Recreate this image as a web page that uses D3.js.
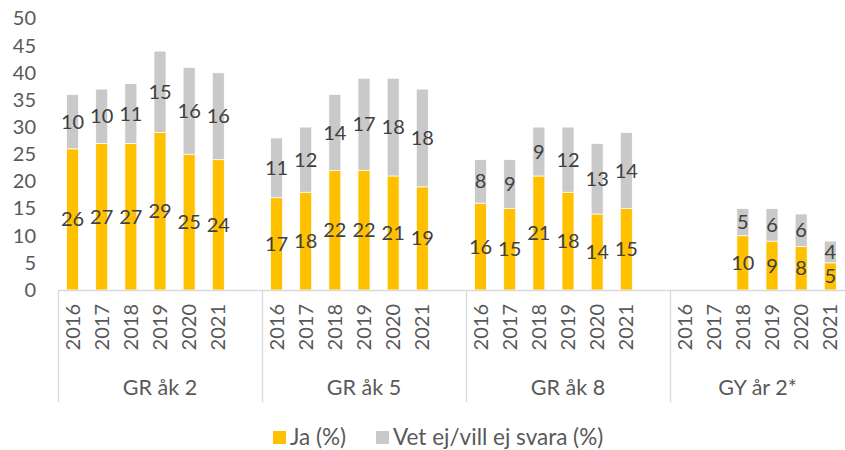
<!DOCTYPE html>
<html><head><meta charset="utf-8">
<script src="https://cdn.jsdelivr.net/npm/d3@7"></script>
<style>
html,body{margin:0;padding:0;background:#fff;}
svg{display:block;font-family:Lato,"Open Sans",sans-serif;}
</style></head>
<body><svg id="c" width="845" height="450"></svg>
<script>
const groups = ["GR åk 2", "GR åk 5", "GR åk 8", "GY år 2*"];
const years = ["2016", "2017", "2018", "2019", "2020", "2021"];
const jaValues = [
  [26, 27, 27, 29, 25, 24],
  [17, 18, 22, 22, 21, 19],
  [16, 15, 21, 18, 14, 15],
  [null, null, 10, 9, 8, 5]
];
const vetValues = [
  [10, 10, 11, 15, 16, 16],
  [11, 12, 14, 17, 18, 18],
  [8, 9, 9, 12, 13, 14],
  [null, null, 5, 6, 6, 4]
];
const seriesNames = ["Ja (%)", "Vet ej/vill ej svara (%)"];
const colors = ["#FFC000", "#C9C9C9"];
const yTicks = [0, 5, 10, 15, 20, 25, 30, 35, 40, 45, 50];

const W = 845, H = 450;
const svg = d3.select("#c");
const left = 58, slotW = 204 / 7;

// slots: 6 years + 1 empty slot per group
const slots = [];
groups.forEach((g, gi) => { years.forEach(y => slots.push(g + "|" + y)); slots.push(g + "|_"); });

const pi = 1 - 12 / slotW;
const x = d3.scaleBand().domain(slots).range([left, left + slots.length * slotW])
  .paddingInner(pi).paddingOuter(pi / 2);
const y = d3.scaleLinear().domain([0, 50]).range([290, 18.5]);

// y axis
const ya = svg.append("g").attr("transform", `translate(${left},0)`)
  .call(d3.axisLeft(y).tickValues(yTicks).tickSize(0).tickPadding(22));
ya.select(".domain").remove();
ya.selectAll("text").attr("fill", "#595959").style("font-size", "20px").style("font-family", "Lato,'Open Sans',sans-serif");

// data rows
const rows = [];
groups.forEach((g, gi) => years.forEach((yr, yi) => {
  const ja = jaValues[gi][yi], vet = vetValues[gi][yi];
  if (ja != null) rows.push({ key: g + "|" + yr, ja, vet });
}));

const stacked = d3.stack().keys(["ja", "vet"])(rows);
const barG = svg.append("g");
stacked.forEach((layer, li) => {
  barG.selectAll(null).data(layer).join("rect")
    .attr("x", d => x(d.data.key))
    .attr("width", x.bandwidth())
    .attr("y", d => y(d[1]))
    .attr("height", d => y(d[0]) - y(d[1]))
    .attr("fill", colors[li])
    .attr("stroke", "#ffffff").attr("stroke-width", 0.75);
});
stacked.forEach((layer, li) => {
  barG.selectAll(null).data(layer).join("text")
    .attr("x", d => x(d.data.key) + x.bandwidth() / 2)
    .attr("y", d => y((d[0] + d[1]) / 2))
    .attr("dy", "0.35em")
    .attr("text-anchor", "middle")
    .attr("fill", "#404040").style("font-size", "20px")
    .text(d => d[1] - d[0]);
});

// x axis line
const axisCol = "#D9D9D9";
svg.append("line").attr("x1", left).attr("x2", W).attr("y1", 290.5).attr("y2", 290.5)
  .attr("stroke", axisCol).attr("stroke-width", 1.3);
// group separators
const bounds = d3.range(groups.length + 1).map(i => left + i * 7 * slotW);
svg.selectAll(null).data(bounds.filter(b => b < W)).join("line")
  .attr("x1", d => Math.round(d) + 0.5).attr("x2", d => Math.round(d) + 0.5)
  .attr("y1", 290).attr("y2", 402)
  .attr("stroke", axisCol).attr("stroke-width", 1.3);

// year labels
const yrRows = [];
groups.forEach(g => years.forEach(yr => yrRows.push({ key: g + "|" + yr, yr })));
svg.selectAll(null).data(yrRows).join("text")
  .attr("transform", d => `translate(${x(d.key) + x.bandwidth() / 2},304) rotate(-90)`)
  .attr("dy", "0.36em").attr("text-anchor", "end")
  .attr("fill", "#595959").style("font-size", "20px")
  .text(d => d.yr);

// group labels
svg.selectAll(null).data(groups).join("text")
  .attr("x", (g, i) => (bounds[i] + Math.min(bounds[i + 1], W)) / 2)
  .attr("y", 387).attr("dy", "0.35em").attr("text-anchor", "middle")
  .attr("fill", "#595959").style("font-size", "21.5px")
  .text(g => g);

// legend
const legX = [273, 376];
const lg = svg.append("g");
seriesNames.forEach((n, i) => {
  lg.append("rect").attr("x", legX[i]).attr("y", 431).attr("width", 13).attr("height", 13).attr("fill", colors[i]);
  lg.append("text").attr("x", legX[i] + 17).attr("y", 437.5).attr("dy", "0.35em")
    .attr("fill", "#595959").style("font-size", "22.5px").text(n);
});
</script></body></html>
